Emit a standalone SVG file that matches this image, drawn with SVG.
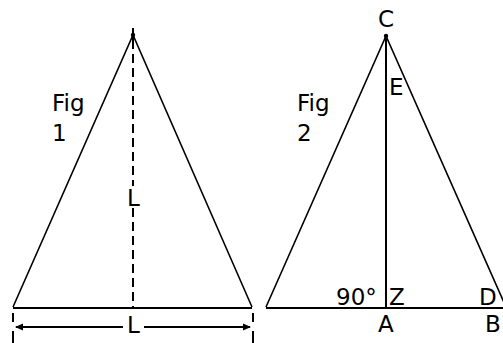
<svg xmlns="http://www.w3.org/2000/svg" width="503" height="343" viewBox="0 0 503 343">
<style>
.t{font-family:"DejaVu Sans","Liberation Sans",sans-serif;font-size:23px;fill:#000}
.s{stroke:#000;stroke-width:1.6;fill:none}
.b{stroke:#000;stroke-width:2;fill:none}
.d{stroke:#000;stroke-width:2;fill:none;stroke-dasharray:9 5}
</style>
<defs>
<marker id="ah" viewBox="0 0 8 8" refX="7" refY="4" markerWidth="8" markerHeight="8" markerUnits="userSpaceOnUse" orient="auto-start-reverse">
<path d="M0,0.5 L8,4 L0,7.5 Z" fill="#000"/>
</marker>
</defs>
<rect width="503" height="343" fill="#fff"/>
<g id="fig1">
<path class="s" d="M13,307 L133,35 L252,307"/>
<line class="b" x1="13" y1="308" x2="252" y2="308"/>
<line class="d" x1="133" y1="40" x2="133" y2="308"/>
<line class="b" x1="133" y1="28" x2="133" y2="40"/>
<circle cx="133" cy="35" r="2.2" fill="#000"/>
<rect x="126" y="186" width="16" height="22" fill="#fff"/>
<line class="b" x1="13" y1="313" x2="13" y2="322"/>
<line class="b" x1="13" y1="331" x2="13" y2="343"/>
<line class="b" x1="253" y1="313" x2="253" y2="322"/>
<line class="b" x1="253" y1="331" x2="253" y2="343"/>
<g id="dim">
<line class="b" x1="16" y1="327" x2="123" y2="327" marker-start="url(#ah)"/>
<line class="b" x1="144" y1="327" x2="250" y2="327" marker-end="url(#ah)"/>
</g>
<text class="t" x="52" y="111">Fig</text>
<text class="t" x="52" y="141">1</text>
<text class="t" x="127" y="206">L</text>
<text class="t" x="127" y="333">L</text>
</g>
<g id="fig2">
<path class="s" d="M266,307 L386,36 L506,307"/>
<line class="b" x1="266" y1="308" x2="503" y2="308"/>
<line class="b" x1="386" y1="36" x2="386" y2="308"/>
<circle cx="386" cy="36" r="2.2" fill="#000"/>
<text class="t" x="378" y="27">C</text>
<text class="t" x="389" y="95">E</text>
<text class="t" x="297" y="111">Fig</text>
<text class="t" x="297" y="141">2</text>
<text class="t" x="336" y="305">90°</text>
<text class="t" x="389" y="305">Z</text>
<text class="t" x="479" y="305">D</text>
<text class="t" x="378" y="332">A</text>
<text class="t" x="485" y="332">B</text>
</g>
</svg>
